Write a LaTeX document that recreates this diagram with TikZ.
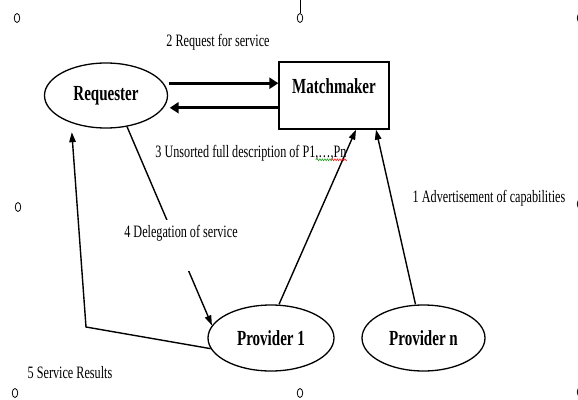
\documentclass[tikz,border=0pt]{standalone}
\usepackage{fontspec}
\setmainfont{Liberation Serif}[FakeStretch=0.7]
\usetikzlibrary{shapes.geometric,arrows.meta,decorations.pathmorphing}

\begin{document}
\begin{tikzpicture}
    [
        x=1pt, y=-1pt,
        agent/.style={ellipse, draw, line width=1.3pt, inner sep=0pt,
            minimum width=123pt, minimum height=65pt,
            font=\fontsize{21.5}{23}\selectfont\bfseries},
        mmbox/.style={rectangle, draw, line width=1.3pt, inner sep=0pt,
            minimum width=110pt, minimum height=67pt, text depth=19pt,
            font=\fontsize{21.5}{23}\selectfont\bfseries},
        lbl/.style={inner sep=1pt, font=\fontsize{17.4}{19}\selectfont},
        handle/.style={ellipse, draw, line width=0.8pt, inner sep=0pt,
            minimum width=5.5pt, minimum height=9pt},
        edge/.style={line width=1.4pt, -{Triangle[length=10pt,width=6.5pt]}},
        heavy/.style={line width=2.6pt, -{Triangle[length=9pt,width=11pt]}},
        squiggle/.style={line width=0.5pt, decorate,
            decoration={zigzag, amplitude=1pt, segment length=2.5pt}},
    ]
    \useasboundingbox (0,0) rectangle (578,399);

    % canvas handles
    \foreach \name/\x/\y in {h1/17/18, h2/300/18, h3/580/18, h4/18/207,
        h5/580/204, h6/15/393, h7/300/393, h8/580/392}
        \node (\name) at (\x,\y) [handle] {};
    \draw [line width=0.9pt] (h2.north) -- (h2.north |- 0,0);

    % agents
    \node (req) at (106,95.5) [agent] {Requester};
    \node (mm)  at (334,95.5) [mmbox] {Matchmaker};
    \node (p1)  at (271,338)  [agent, minimum width=126pt, minimum height=66pt] {Provider 1};
    \node (pn)  at (423.5,338) [agent, minimum height=66pt] {Provider n};
    \coordinate (turn) at (86,327);

    % links
    \draw [heavy, shorten <=5pt] (req.12) -- (req.12 -| mm.west);
    \draw [heavy, shorten >=6pt] (req.-12 -| mm.west) -- (req.-12);
    \path
    (req.-56) edge [edge] (p1.168)
    ([xshift=8pt]p1.north) edge [edge] ([xshift=22pt]mm.south)
    ([xshift=-8pt]pn.north) edge [edge] ([xshift=42pt]mm.south);
    \draw [edge] (p1.190) -- (turn) -- ([yshift=-9pt]req.-141);

    % labels
    \node (reqlbl)  at (218,42)  [lbl] {2 Request for service};
    \node (desclbl) at (251,153) [lbl] {3 Unsorted full description of P1,…,Pn};
    \node (advlbl)  at (489,198) [lbl] {1 Advertisement of capabilities};
    \node (dellbl)  at (181,220) [lbl, fill=white, anchor=north, inner ysep=5pt,
        text depth=29pt] {4 Delegation of service};
    \node (reslbl)  at (70,373)  [lbl] {5 Service Results};

    % spelling marks
    \draw [squiggle, green!60!black] ([xshift=-31pt,yshift=-2.5pt]desclbl.base east)
        -- ([xshift=-16pt,yshift=-2.5pt]desclbl.base east);
    \draw [squiggle, red] ([xshift=-16pt,yshift=-2.5pt]desclbl.base east)
        -- ([xshift=-1pt,yshift=-2.5pt]desclbl.base east);

\end{tikzpicture}
\end{document}
